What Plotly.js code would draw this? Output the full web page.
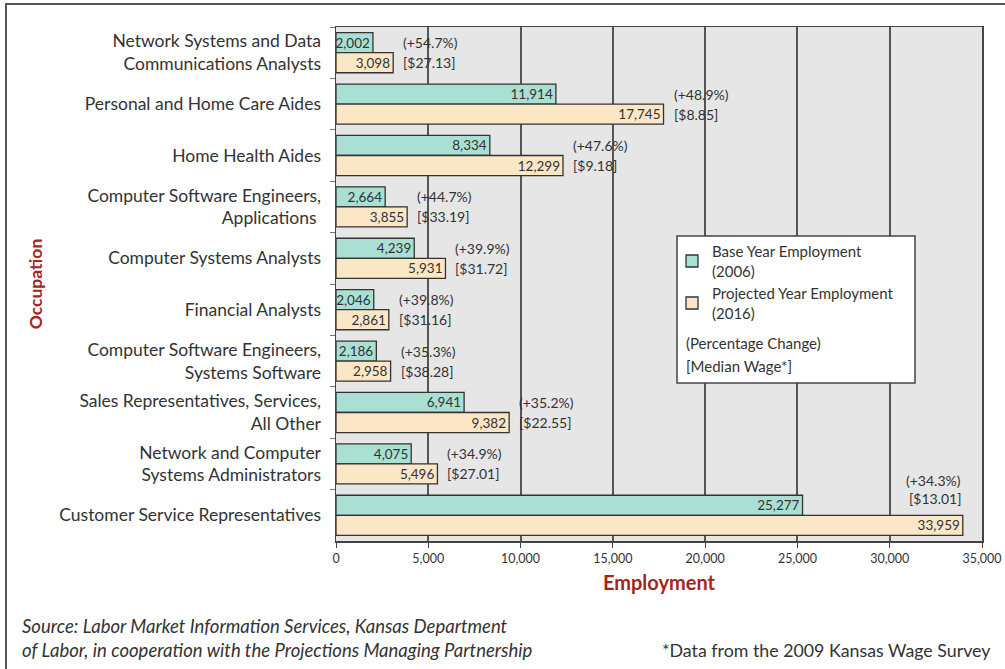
<!DOCTYPE html>
<html><head><meta charset="utf-8">
<script src="https://cdn.plot.ly/plotly-3.0.1.min.js"></script>
<style>html,body{margin:0;padding:0;background:#fff;}#chart{width:1005px;height:669px;}</style>
</head><body><div id="chart"></div>
<script>
const occupations = [
  'Network Systems and Data<br>Communications Analysts',
  'Personal and Home Care Aides',
  'Home Health Aides',
  'Computer Software Engineers,<br>Applications ',
  'Computer Systems Analysts',
  'Financial Analysts',
  'Computer Software Engineers,<br>Systems Software',
  'Sales Representatives, Services,<br>All Other',
  'Network and Computer<br>Systems Administrators',
  'Customer Service Representatives'
];
const base2006 = [2002, 11914, 8334, 2664, 4239, 2046, 2186, 6941, 4075, 25277];
const proj2016 = [3098, 17745, 12299, 3855, 5931, 2861, 2958, 9382, 5496, 33959];
const pctChange = ['+54.7%', '+48.9%', '+47.6%', '+44.7%', '+39.9%', '+39.8%', '+35.3%', '+35.2%', '+34.9%', '+34.3%'];
const medianWage = ['$27.13', '$8.85', '$9.18', '$33.19', '$31.72', '$31.16', '$38.28', '$22.55', '$27.01', '$13.01'];
const xTicks = [0, 5000, 10000, 15000, 20000, 25000, 30000, 35000];

const FONT = 'Lato, "Open Sans", sans-serif';
const W = 1005, H = 669;
const M = {l: 336, r: 23, t: 27, b: 128};
const pw = W - M.l - M.r, ph = H - M.t - M.b;
const px = p => (p - M.l) / pw;
const py = p => 1 - (p - M.t) / ph;
const BARGAP = 0.22;
const off = (1 - BARGAP) / 4;

const common = {
  type: 'bar', orientation: 'h', y: occupations,
  texttemplate: '%{x:,.0f}', textposition: 'inside', insidetextanchor: 'end',
  textfont: {family: FONT, size: 13.5, color: '#333'},
  hoverinfo: 'x+y', cliponaxis: false
};
const traces = [
  Object.assign({}, common, {
    name: 'Base Year Employment<br>(2006)', x: base2006,
    marker: {color: '#aadfd4', line: {color: '#333', width: 1.3}}
  }),
  Object.assign({}, common, {
    name: 'Projected Year Employment<br>(2016)', x: proj2016,
    marker: {color: '#fbe6c6', line: {color: '#333', width: 1.3}}
  })
];

const annFont = {family: FONT, size: 14, color: '#333'};
const legFont = {family: FONT, size: 15, color: '#333'};
const annotations = [];
occupations.forEach((o, i) => {
  const last = i === occupations.length - 1;
  annotations.push({
    x: proj2016[i], y: i - off, xref: 'x', yref: 'y',
    text: '(' + pctChange[i] + ')', showarrow: false,
    xanchor: last ? 'right' : 'left', xshift: last ? 0 : 8, yshift: last ? 25 : 0,
    font: annFont
  });
  annotations.push({
    x: proj2016[i], y: i + off, xref: 'x', yref: 'y',
    text: '[' + medianWage[i] + ']', showarrow: false,
    xanchor: last ? 'right' : 'left', xshift: last ? 0 : 8, yshift: last ? 27 : 0,
    font: annFont
  });
});
annotations.push(
  {xref: 'paper', yref: 'paper', x: px(684), y: py(343), xanchor: 'left', yanchor: 'middle',
   text: '(Percentage Change)', showarrow: false, font: legFont},
  {xref: 'paper', yref: 'paper', x: px(684), y: py(366), xanchor: 'left', yanchor: 'middle',
   text: '[Median Wage*]', showarrow: false, font: legFont},
  {xref: 'paper', yref: 'paper', x: px(20), y: py(638), xanchor: 'left', yanchor: 'middle', align: 'left',
   text: '<i>Source: Labor Market Information Services, Kansas Department<br>of Labor, in cooperation with the Projections Managing Partnership</i>',
   showarrow: false, font: {family: FONT, size: 18.5, color: '#333'}},
  {xref: 'paper', yref: 'paper', x: px(993), y: py(650), xanchor: 'right', yanchor: 'middle',
   text: '*Data from the 2009 Kansas Wage Survey', showarrow: false,
   font: {family: FONT, size: 17.8, color: '#333'}}
);

const shapes = [
  {type: 'rect', xref: 'paper', yref: 'paper', x0: px(6), x1: px(1012), y0: py(4), y1: py(690),
   line: {color: '#555', width: 2}, fillcolor: 'rgba(0,0,0,0)', layer: 'below'},
  {type: 'rect', xref: 'paper', yref: 'paper', x0: px(677), x1: px(915), y0: py(236), y1: py(383),
   line: {color: '#444', width: 1.5}, fillcolor: '#fff', layer: 'above'}
];

const layout = {
  width: W, height: H, margin: M,
  paper_bgcolor: '#fff', plot_bgcolor: '#e6e6e6',
  barmode: 'group', bargap: BARGAP, bargroupgap: 0,
  font: {family: FONT, color: '#333'},
  showlegend: true,
  legend: {x: px(672), y: py(235), xanchor: 'left', yanchor: 'top',
           bgcolor: 'rgba(0,0,0,0)', borderwidth: 0, font: legFont,
           itemwidth: 30, tracegroupgap: 3},
  xaxis: {range: [0, 35000], tickvals: xTicks, tickformat: ',.0f', automargin: false,
          showgrid: true, gridcolor: '#555', gridwidth: 2,
          showline: true, linecolor: '#444', linewidth: 1.5, mirror: true,
          ticks: 'outside', ticklen: 5, tickcolor: '#444',
          tickfont: {family: FONT, size: 12.5, color: '#333'}, zeroline: false,
          title: {text: '<b>Employment</b>', font: {family: FONT, size: 20, color: '#a3261c'}, standoff: 11}},
  yaxis: {range: [occupations.length - 0.5, -0.5], type: 'category', tickson: 'boundaries', automargin: false,
          showline: true, linecolor: '#444', linewidth: 1.5, mirror: true,
          ticks: 'outside', ticklen: 5, tickcolor: '#777', showgrid: false, ticklabelstandoff: 10,
          tickfont: {family: FONT, size: 17.5, color: '#333'},
          title: {text: '<b>Occupation</b>', font: {family: FONT, size: 17.5, color: '#a3261c'}, standoff: 12}},
  uniformtext: {minsize: 13.5, mode: 'show'},
  annotations: annotations, shapes: shapes
};

Plotly.newPlot('chart', traces, layout, {displayModeBar: false, staticPlot: true});
</script></body></html>
